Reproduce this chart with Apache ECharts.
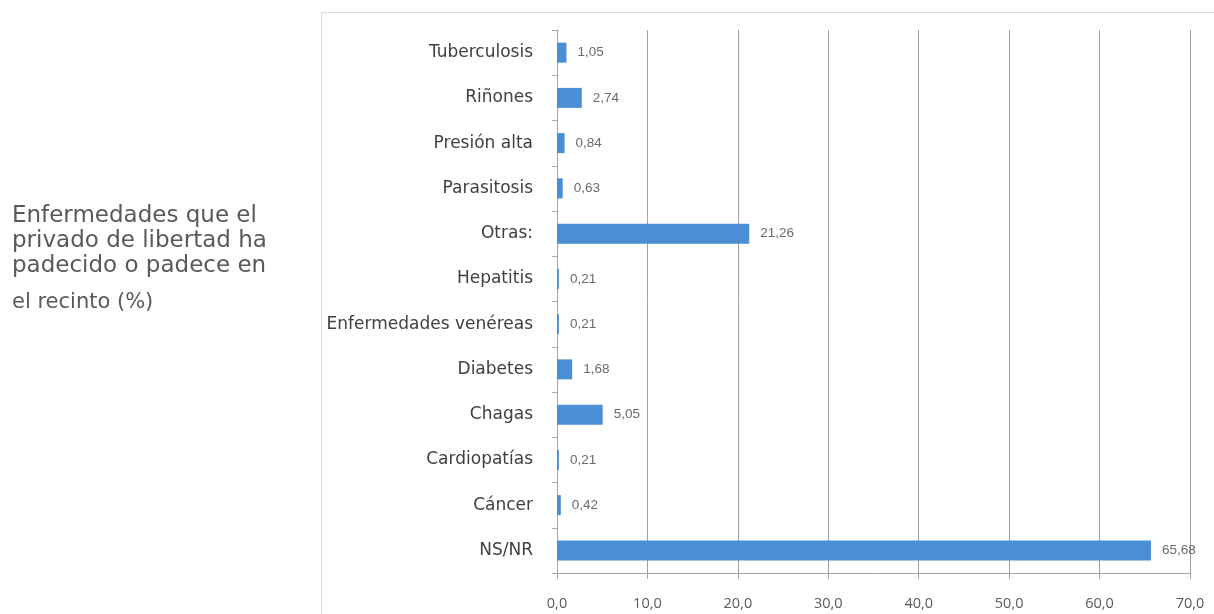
<!DOCTYPE html>
<html>
<head>
<meta charset="utf-8">
<script src="https://cdn.jsdelivr.net/npm/echarts@6/dist/echarts.min.js"></script>
<style>
html,body{margin:0;padding:0;background:#fff;}
#chart{width:1214px;height:614px;}
</style>
</head>
<body>
<div id="chart"></div>
<script>
var categories = ['Tuberculosis','Riñones','Presión alta','Parasitosis','Otras:','Hepatitis','Enfermedades venéreas','Diabetes','Chagas','Cardiopatías','Cáncer','NS/NR'];
var values = [1.05, 2.74, 0.84, 0.63, 21.26, 0.21, 0.21, 1.68, 5.05, 0.21, 0.42, 65.68];
var titleLines = ['Enfermedades que el','privado de libertad ha','padecido o padece en'];
var titleLast = 'el recinto (%)';

function comma(v, d){ return Number(v).toFixed(d).replace('.', ','); }

var chart = echarts.init(document.getElementById('chart'));
chart.setOption({
  animation: false,
  backgroundColor: '#ffffff',
  title: [
    {
      text: titleLines.join('\n'),
      left: 7, top: 199,
      textStyle: {fontFamily: 'DejaVu Sans', fontSize: 23, fontWeight: 'normal', color: '#595959', lineHeight: 25}
    },
    {
      text: titleLast,
      left: 7, top: 287,
      textStyle: {fontFamily: 'DejaVu Sans', fontSize: 21, fontWeight: 'normal', color: '#595959'}
    }
  ],
  graphic: [{
    type: 'rect',
    shape: {x: 321.5, y: 12.5, width: 1000, height: 700},
    style: {fill: 'none', stroke: '#d9d9d9', lineWidth: 1},
    silent: true, z: -1
  }],
  grid: {left: 557, right: 24, top: 30, bottom: 41, containLabel: false},
  xAxis: {
    type: 'value', min: 0, max: 70, interval: 10,
    axisLine: {show: true, lineStyle: {color: '#a6a6a6'}},
    axisTick: {show: true, length: 6, lineStyle: {color: '#a6a6a6'}},
    splitLine: {show: true, lineStyle: {color: '#a0a0a0', width: 1}},
    axisLabel: {
      margin: 23, fontFamily: 'Open Sans', fontSize: 14.5, color: '#5a5a5a',
      formatter: function(v){ return comma(v, 1); }
    }
  },
  yAxis: {
    type: 'category', inverse: true, data: categories,
    axisLine: {show: true, lineStyle: {color: '#a6a6a6'}},
    axisTick: {show: true, length: 5, alignWithLabel: false, lineStyle: {color: '#a6a6a6'}},
    axisLabel: {margin: 24, fontFamily: 'DejaVu Sans', fontSize: 17, color: '#404040'}
  },
  series: [{
    type: 'bar',
    data: values,
    barWidth: 20,
    itemStyle: {color: '#4a8fd6'},
    label: {
      show: true, position: 'right', distance: 11,
      fontFamily: 'Liberation Sans', fontSize: 13.5, color: '#6a6a6a',
      formatter: function(p){ return comma(p.value, 2); }
    }
  }]
});
</script>
</body>
</html>
